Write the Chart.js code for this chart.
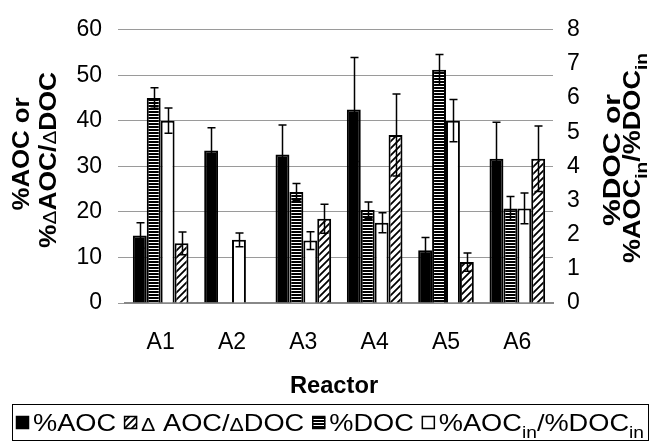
<!DOCTYPE html>
<html>
<head>
<meta charset="utf-8">
<script src="https://cdn.jsdelivr.net/npm/chart.js@4"></script>
<style>
html, body { margin: 0; padding: 0; background: #fff; }
#wrap { width: 660px; height: 445px; }
</style>
</head>
<body>
<div id="wrap"><canvas id="c" width="660" height="445"></canvas></div>
<script>
// ── Data ──
const reactors = ['A1', 'A2', 'A3', 'A4', 'A5', 'A6'];
const leftTicks = [0, 10, 20, 30, 40, 50, 60];
const rightTicks = [0, 1, 2, 3, 4, 5, 6, 7, 8];

// left axis
const pctAOC     = [14.8, 33.5, 32.6, 42.5, 11.6, 31.7];
const pctAOCErr  = [2.8, 5.0, 6.5, 11.4, 2.8, 8.0];
const dRatio     = [13.1, null, 18.5, 36.9, 9.0, 31.7];
const dRatioErr  = [2.5, null, 3.2, 9.0, 2.0, 7.2];
// right axis
const pctDOC     = [6.0, null, 3.25, 2.72, 6.83, 2.77];
const pctDOCErr  = [0.3, null, 0.25, 0.24, 0.45, 0.35];
const inRatio    = [5.34, 1.85, 1.83, 2.35, 5.34, 2.77];
const inRatioErr = [0.37, 0.2, 0.26, 0.29, 0.62, 0.45];

const labAOC   = '%AOC';
const labDelta = 'Δ AOC/ΔDOC';
const labDOC   = '%DOC';
const labIn    = '%AOC_{in}/%DOC_{in}';
const xTitle = 'Reactor';
const yTitle = ['%AOC or', '%ΔAOC/ΔDOC'];
const y2Title = ['%DOC or', '%AOC_{in}/%DOC_{in}'];

const FAM = '"Liberation Sans", Arial, sans-serif';
const canvas = document.getElementById('c');
const ctx = canvas.getContext('2d');

// ── Fill patterns ──
function stripes() {
    const t = document.createElement('canvas'); t.width = 4; t.height = 3;
    const g = t.getContext('2d');
    g.fillStyle = '#fff'; g.fillRect(0, 0, 4, 3);
    g.fillStyle = '#000'; g.fillRect(0, 0, 4, 2);
    return ctx.createPattern(t, 'repeat');
}
function hatch() {
    const s = 7;
    const t = document.createElement('canvas'); t.width = s; t.height = s;
    const g = t.getContext('2d');
    g.fillStyle = '#fff'; g.fillRect(0, 0, s, s);
    g.strokeStyle = '#000'; g.lineWidth = 1.8;
    g.beginPath();
    g.moveTo(-1, s + 1); g.lineTo(s + 1, -1);
    g.moveTo(-1, 1); g.lineTo(1, -1);
    g.moveTo(s - 1, s + 1); g.lineTo(s + 1, s - 1);
    g.stroke();
    return ctx.createPattern(t, 'repeat');
}
const fills = { solid: '#000', stripe: stripes(), white: '#fff', hatch: hatch() };

// ── Rich text: _{..} = subscript, Δ drawn smaller/plain ──
function parts(str) {
    return str.split(/(_\{[^}]*\}|Δ)/).filter(s => s).map(s => {
        if (s.startsWith('_{')) return { t: s.slice(2, -1), k: 'sub' };
        if (s === 'Δ') return { t: s, k: 'sym' };
        return { t: s, k: 'n' };
    });
}
function fontFor(k, size, bold) {
    if (k === 'sub') return `${bold ? 'bold ' : ''}${Math.round(size * 0.72)}px ${FAM}`;
    if (k === 'sym') return `${Math.round(size * 0.8)}px ${FAM}`;
    return `${bold ? 'bold ' : ''}${size}px ${FAM}`;
}
function richWidth(c, str, size, bold) {
    return parts(str).reduce((w, p) => { c.font = fontFor(p.k, size, bold); return w + c.measureText(p.t).width; }, 0);
}
// draws at baseline y; align 'left' or 'center'; sx stretches horizontally
function drawRich(c, str, x, y, size, bold, align, sx = 1) {
    const w = richWidth(c, str, size, bold);
    const x0 = align === 'center' ? x - w * sx / 2 : x;
    c.save();
    c.translate(x0, y); c.scale(sx, 1);
    c.textAlign = 'left'; c.textBaseline = 'alphabetic'; c.fillStyle = '#000';
    let cx = 0;
    for (const p of parts(str)) {
        c.font = fontFor(p.k, size, bold);
        c.fillText(p.t, cx, p.k === 'sub' ? size * 0.3 : 0);
        cx += c.measureText(p.t).width;
    }
    c.restore();
}

// ── Error bars ──
const errorBars = {
    id: 'errorBars',
    afterDatasetsDraw(chart) {
        const c = chart.ctx;
        c.save();
        c.strokeStyle = '#000'; c.lineWidth = 1.5;
        chart.data.datasets.forEach((ds, di) => {
            const meta = chart.getDatasetMeta(di);
            const sc = chart.scales[ds.yAxisID];
            meta.data.forEach((bar, i) => {
                const v = ds.data[i], e = ds.errors[i];
                if (v == null || e == null) return;
                const x = Math.round(bar.x) + 0.5;
                const yt = sc.getPixelForValue(v + e), yb = sc.getPixelForValue(v - e);
                c.beginPath();
                c.moveTo(x, yt); c.lineTo(x, yb);
                c.moveTo(x - 4, yt); c.lineTo(x + 4, yt);
                c.moveTo(x - 4, yb); c.lineTo(x + 4, yb);
                c.stroke();
            });
        });
        c.restore();
    }
};

// ── Titles + legend box ──
const decorations = {
    id: 'decorations',
    afterDraw(chart) {
        const c = chart.ctx;
        const a = chart.chartArea;
        c.save();
        drawRich(c, xTitle, (a.left + a.right) / 2 - 5, 393, 23, true, 'center', 1.03);

        // rotated titles: baseline x, centre y, length
        const rot = (str, x, cy, len) => {
            c.save(); c.translate(x, cy); c.rotate(-Math.PI / 2);
            drawRich(c, str, 0, 0, 24, true, 'center', len / richWidth(c, str, 24, true));
            c.restore();
        };
        rot(yTitle[0], 29, 154, 113);
        rot(yTitle[1], 56, 160, 176);
        rot(y2Title[0], 620, 160, 132);
        rot(y2Title[1], 640, 158, 210);

        // legend: one flow, stretched evenly to fill the box
        const bx = 12, bw = 636, fs = 24, box = 13, pad = 4, gap = 8;
        c.strokeStyle = '#000'; c.lineWidth = 1;
        c.strokeRect(bx + 0.5, 404.5, bw, 36);
        const items = [0, 3, 1, 2].map(di => chart.data.datasets[di]);
        const tw = items.map(ds => richWidth(c, ds.label, fs, false));
        const room = bw - 8 - items.length * (box + pad) - (items.length - 1) * gap;
        const sx = room / tw.reduce((s, w) => s + w, 0);
        let x = bx + 4;
        items.forEach((ds, k) => {
            c.fillStyle = ds.backgroundColor;
            c.fillRect(x, 416, box, box);
            c.lineWidth = 1.5; c.strokeStyle = '#000';
            c.strokeRect(x + 0.5, 416.5, box - 1, box - 1);
            drawRich(c, ds.label, x + box + pad, 431, fs, false, 'left', sx);
            x += box + pad + tw[k] * sx + gap;
        });
        c.restore();
    }
};

const tickFont = { size: 23, family: FAM };

new Chart(canvas, {
    type: 'bar',
    data: {
        labels: reactors,
        datasets: [
            { label: labAOC, data: pctAOC, errors: pctAOCErr, yAxisID: 'y',
              backgroundColor: fills.solid, borderColor: '#000', borderWidth: 2 },
            { label: labDOC, data: pctDOC, errors: pctDOCErr, yAxisID: 'y2',
              backgroundColor: fills.stripe, borderColor: '#000', borderWidth: 2 },
            { label: labIn, data: inRatio, errors: inRatioErr, yAxisID: 'y2',
              backgroundColor: fills.white, borderColor: '#000', borderWidth: 2 },
            { label: labDelta, data: dRatio, errors: dRatioErr, yAxisID: 'y',
              backgroundColor: fills.hatch, borderColor: '#000', borderWidth: 2 },
        ]
    },
    options: {
        responsive: false, animation: false, devicePixelRatio: 1,
        datasets: { bar: { categoryPercentage: 0.78, barPercentage: 1.0 } },
        layout: { padding: { top: 23, left: 0, right: 0, bottom: 0 } },
        plugins: { legend: { display: false }, tooltip: { enabled: false } },
        scales: {
            x: {
                grid: { display: false },
                border: { display: true, color: '#888', width: 2 },
                ticks: { color: '#000', font: tickFont, padding: 18 },
                afterFit(s) { s.height = 142; }
            },
            y: {
                position: 'left', min: 0, max: 60,
                afterBuildTicks(s) { s.ticks = leftTicks.map(v => ({ value: v })); },
                grid: { color: '#9a9a9a', tickLength: 7 },
                border: { display: false },
                ticks: { color: '#000', font: tickFont, padding: 16 },
                afterFit(s) { s.width = 125; }
            },
            y2: {
                position: 'right', min: 0, max: 8,
                afterBuildTicks(s) { s.ticks = rightTicks.map(v => ({ value: v })); },
                grid: { drawOnChartArea: false, drawTicks: false },
                border: { display: false },
                ticks: { color: '#000', font: tickFont, padding: 14 },
                afterFit(s) { s.width = 107; }
            }
        }
    },
    plugins: [errorBars, decorations]
});
</script>
</body>
</html>
